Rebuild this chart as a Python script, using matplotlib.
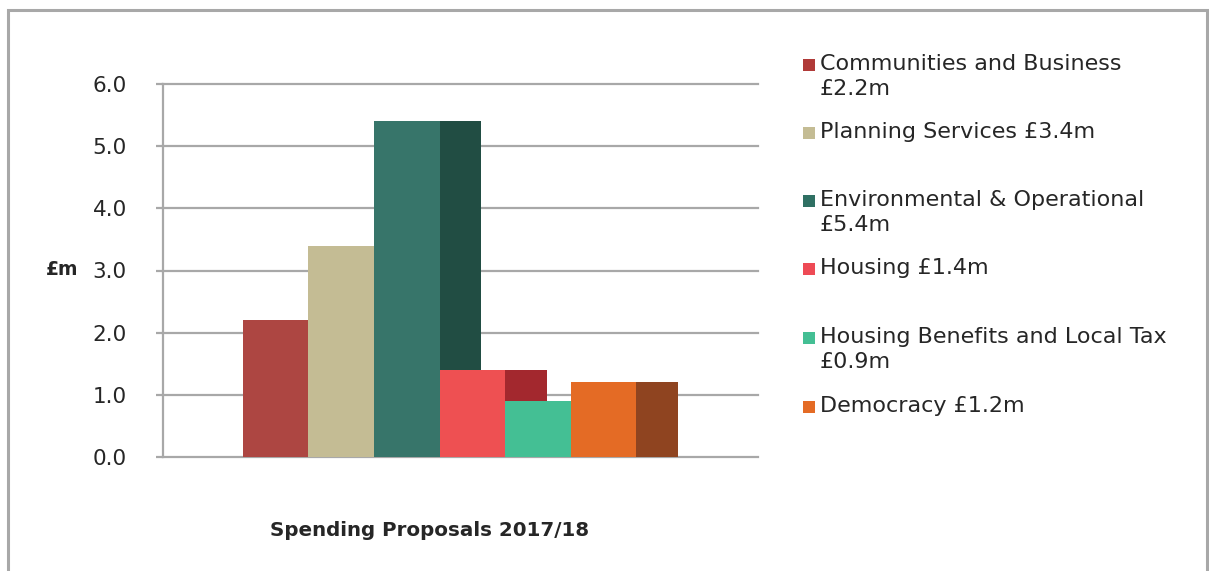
import matplotlib.pyplot as plt
from matplotlib.patches import Rectangle

# spending by service area, £m
services = ["Communities and Business\n£2.2m", "Planning Services £3.4m",
            "Environmental & Operational\n£5.4m", "Housing £1.4m",
            "Housing Benefits and Local Tax\n£0.9m", "Democracy £1.2m"]
values = [2.2, 3.4, 5.4, 1.4, 0.9, 1.2]
front_colors = ["#ad4642", "#c4bc94", "#37756a", "#ee5052", "#44bf94", "#e46b25"]
side_colors = ["#7e2e2c", "#9a916c", "#214d43", "#a3282e", "#2e8c6a", "#8f4420"]
legend_colors = ["#b03a38", "#c4bc94", "#2f7063", "#ee4a55", "#44bf94", "#e46b25"]
y_ticks = [0, 1, 2, 3, 4, 5, 6]

W, H = 1209, 571
text_color = "#262626"
grid_color = "#a8a8a8"

fig = plt.figure(figsize=(W / 100, H / 100), dpi=100)
fig.patch.set_facecolor("white")

# outer frame
fig.patches.append(Rectangle((8 / W, -0.05), (1207 - 8) / W, 1.05 - 10 / H,
                             transform=fig.transFigure, fill=False,
                             edgecolor=grid_color, linewidth=2.2))

ax = fig.add_axes([163 / W, 1 - 457 / H, (758 - 163) / W, (457 - 84) / H])
ax.set_xlim(-1.22, 7.86)
ax.set_ylim(0, 6)

for y in y_ticks:
    ax.axhline(y, color=grid_color, linewidth=1.6, zorder=0, clip_on=False)

side_w = 0.64
for i, (v, fc, sc) in enumerate(zip(values, front_colors, side_colors)):
    ax.add_patch(Rectangle((i + 1, 0), side_w, v, facecolor=sc, edgecolor="none", zorder=2))
    ax.add_patch(Rectangle((i, 0), 1, v, facecolor=fc, edgecolor="none", zorder=2))

for s in ["top", "right", "bottom"]:
    ax.spines[s].set_visible(False)
ax.spines["left"].set_color(grid_color)
ax.spines["left"].set_linewidth(1.6)
ax.set_xticks([])
ax.set_yticks(y_ticks)
ax.set_yticklabels([f"{t:.1f}" for t in y_ticks])
ax.tick_params(axis="y", direction="out", length=5, width=1.6, color=grid_color,
               labelsize=15.5, labelcolor=text_color, pad=21)

fig.text(46 / W, 1 - 270 / H, "£m", fontsize=13.5, color=text_color,
         fontweight="bold", va="center", ha="left")
fig.text(430 / W, 1 - 530 / H, "Spending Proposals 2017/18", fontsize=14.3,
         color=text_color, fontweight="bold", va="center", ha="center")

# legend drawn by hand to keep the uneven spacing of the original
legend_y = [65, 133, 201, 269, 338, 407]
for label, col, y in zip(services, legend_colors, legend_y):
    fig.patches.append(Rectangle((803 / W, 1 - (y + 6) / H), 12 / W, 12 / H,
                                 transform=fig.transFigure, facecolor=col,
                                 edgecolor="none"))
    fig.text(820 / W, 1 - (y - 11) / H, label, fontsize=16, color=text_color,
             va="top", ha="left", linespacing=1.3)

fig.savefig("out.png", dpi=100)
